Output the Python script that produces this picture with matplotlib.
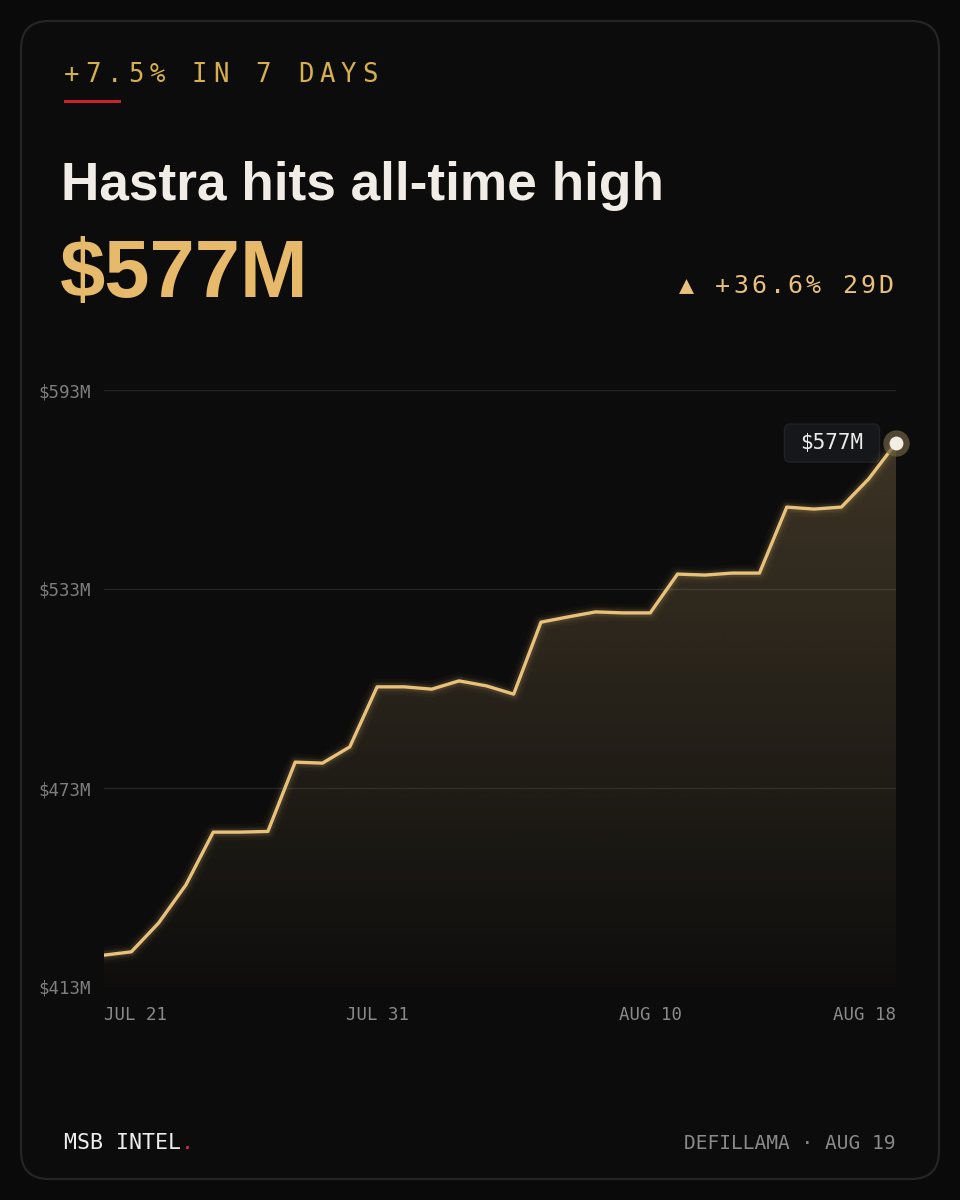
import numpy as np
import pandas as pd
import matplotlib
matplotlib.use("Agg")
import matplotlib.pyplot as plt
from matplotlib.patches import FancyBboxPatch, Rectangle

# --- data ---
days = pd.date_range("2025-07-21", "2025-08-19", freq="D")
tvl = [422.6, 423.6, 432.3, 443.8, 459.7, 459.7, 459.9, 480.8, 480.5, 485.4,
       503.5, 503.5, 502.8, 505.3, 503.8, 501.3, 523.0, 524.6, 526.1, 525.8,
       525.8, 537.5, 537.2, 537.8, 537.8, 557.7, 557.1, 557.7, 566.2, 577.0]
y_ticks = [413, 473, 533, 593]
tick_days = ["2025-07-21", "2025-07-31", "2025-08-10", "2025-08-18"]

header = "+7.5% IN 7 DAYS"
title = "Hastra hits all-time high"
big_value = "$577M"
change = "\u25b2 +36.6% 29D"
brand = "MSB INTEL"
source = "DEFILLAMA \u00b7 AUG 19"

W, H = 960, 1200
BG = "#0a0a0a"
CARD = "#0c0c0c"
GOLD = "#e9c17b"
MONO = "DejaVu Sans Mono"

fig = plt.figure(figsize=(W / 100, H / 100), dpi=100, facecolor=BG)

# background axes in pixel coords (y down)
bg = fig.add_axes([0, 0, 1, 1], zorder=0)
bg.set_xlim(0, W)
bg.set_ylim(H, 0)
bg.axis("off")
bg.add_patch(FancyBboxPatch((21, 21), 918, 1158, boxstyle="round,pad=0,rounding_size=28",
                            fc=CARD, ec="#252525", lw=1.6))


def spaced(x, y, s, pitch, **kw):
    for i, ch in enumerate(s):
        bg.text(x + i * pitch, y, ch, ha="left", va="baseline", **kw)


spaced(64, 82, header, 21.3, family=MONO, size=18.5, color="#d6b04e")
bg.add_patch(Rectangle((64, 99.5), 57, 3, color="#c9232d", lw=0))

bg.text(61, 200, title, ha="left", va="baseline", family="Liberation Sans",
        weight="bold", size=38.3, color="#f1ede6")
bg.text(60, 297, big_value, ha="left", va="baseline", family="Liberation Sans",
        weight="bold", size=58.5, color="#e6b96b")
spaced(679, 293, change, 18.1, family=MONO, size=18, color="#e9c07c")

bg.text(64, 1149, brand, ha="left", va="baseline", family=MONO, size=15.5, color="#eeeeee")
bg.text(64 + len(brand) * 0.602 * 15.5 * 100 / 72, 1149, ".", ha="left", va="baseline",
        family=MONO, size=15.5, color="#c4304c")
bg.text(895, 1149, source, ha="right", va="baseline", family=MONO, size=14, color="#8a8a8a")

# --- chart ---
ax = fig.add_axes([104 / W, 213 / H, 792 / W, 597 / H], zorder=1)
ax.set_facecolor("none")
x = np.arange(len(tvl))
ax.set_xlim(0, len(tvl) - 1)
ax.set_ylim(y_ticks[0], y_ticks[-1])
for s in ax.spines.values():
    s.set_visible(False)

ax.set_yticks(y_ticks)
ax.set_yticklabels([f"${v}M" for v in y_ticks], family=MONO, size=12.5, color="#7e7e7e")
ax.tick_params(axis="y", length=0, pad=9.4)
ax.set_xticks([])
ax.grid(axis="y", color="#242424", lw=1)
ax.set_axisbelow(True)

# gradient fill under the line
rgb = matplotlib.colors.to_rgb(GOLD)
grad = np.zeros((256, 1, 4))
grad[..., :3] = rgb
grad[:, 0, 3] = np.linspace(0.24, 0.015, 256)
im = ax.imshow(grad, extent=[0, len(tvl) - 1, y_ticks[0], y_ticks[-1]], aspect="auto",
               origin="upper", zorder=1)
poly = ax.fill_between(x, tvl, y_ticks[0], color="none", lw=0)
im.set_clip_path(poly.get_paths()[0], transform=ax.transData)

# glow + line
for lw, a in [(12, 0.03), (8, 0.05), (5.5, 0.09)]:
    ax.plot(x, tvl, color=GOLD, lw=lw, alpha=a, solid_capstyle="round", zorder=2)
ax.plot(x, tvl, color=GOLD, lw=2.4, solid_joinstyle="round", zorder=3)

# end marker
ax.scatter([x[-1]], [tvl[-1]], s=360, color="#6e5f42", alpha=0.7, lw=0, zorder=4, clip_on=False)
ax.scatter([x[-1]], [tvl[-1]], s=100, color="#f3eee4", lw=0, zorder=5, clip_on=False)

# x labels
for i, d in enumerate(tick_days):
    xi = days.get_loc(pd.Timestamp(d))
    lab = pd.Timestamp(d).strftime("%b %d").upper()
    ha = "center"
    if i == 0:
        ha = "left"
    elif i == len(tick_days) - 1:
        ha, xi = "right", len(tvl) - 1
    ax.text(xi, -0.047, lab, transform=ax.get_xaxis_transform(), ha=ha, va="center",
            family=MONO, size=12.5, color="#8a8a8a")

# value badge next to the last point
fig.canvas.draw()
px, py = ax.transData.transform((x[-1], tvl[-1]))
py = H - py
bx = px - 64
bg.add_patch(FancyBboxPatch((bx - 47.5, py - 19), 95, 38,
                            boxstyle="round,pad=0,rounding_size=6",
                            fc="#16171a", ec="#212226", lw=1, zorder=3))
bg.text(bx, py, f"${tvl[-1]:.0f}M", ha="center", va="center", family=MONO, size=15,
        color="#ececec", zorder=4)

fig.savefig("out.png", dpi=100, facecolor=BG)
